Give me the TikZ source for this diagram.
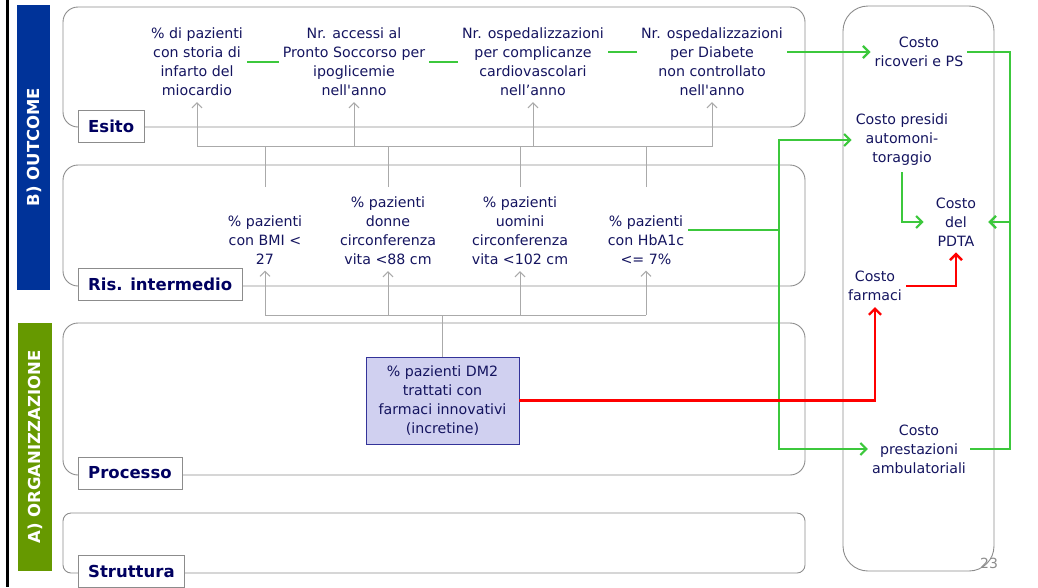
\documentclass[tikz,border=0pt]{standalone}
\usepackage{fontspec}
\setmainfont{DejaVu Sans}
\usetikzlibrary{arrows.meta}
\definecolor{navy}{RGB}{20,20,95}
\definecolor{labelnavy}{RGB}{0,0,96}
\definecolor{boxgray}{RGB}{140,140,140}
\definecolor{linegray}{RGB}{170,170,170}
\definecolor{barblue}{RGB}{0,51,153}
\definecolor{bargreen}{RGB}{102,153,0}
\definecolor{linkgreen}{RGB}{60,200,60}
\definecolor{incrfill}{RGB}{208,208,240}
\definecolor{incrdraw}{RGB}{51,51,153}
\begin{document}
\begin{tikzpicture}[x=1pt,y=-1pt,
    txt/.style={align=center, text=navy, font=\fontsize{14.2}{19}\selectfont, inner xsep=4pt, inner ysep=6pt},
    sectionlabel/.style={draw=boxgray, fill=white, text=labelnavy, anchor=west, font=\fontsize{16.5}{18}\selectfont\bfseries, minimum height=32pt, inner xsep=10pt},
    sidebar/.style={rotate=90, text=white, font=\fontsize{16.5}{18}\selectfont\bfseries},
    area/.style={draw=boxgray, line width=0.9pt, rounded corners=15pt},
    grayline/.style={draw=linegray, line width=1pt},
    grayarrow/.style={grayline, -{Straight Barb[length=5pt,width=10pt]}},
    greenline/.style={draw=linkgreen, line width=2.2pt},
    greenarrow/.style={greenline, -{Straight Barb[length=6pt,width=12pt]}},
    redarrow/.style={draw=red, line width=2.4pt, -{Straight Barb[length=6pt,width=12pt]}}]
    \useasboundingbox (0,0) rectangle (1038,587);
    % side bars
    \draw[line width=3pt] (7,0) -- (7,587);
    \fill[barblue] (17,5) rectangle (50,290);
    \node[sidebar] (outcome) at (34,147) {B) OUTCOME};
    \fill[bargreen] (18,323) rectangle (52,571);
    \node[sidebar] (organizz) at (35,447) {A) ORGANIZZAZIONE};
    % areas
    \draw[area] (63,7) rectangle (805,127);
    \draw[area] (63,165) rectangle (805,286);
    \draw[area] (63,323) rectangle (805,475);
    \draw[area, rounded corners=8pt] (63,513) rectangle (805,573);
    \draw[area, rounded corners=25pt] (843,6) rectangle (994,571);
    \node[sectionlabel] (esito) at (78,126) {Esito};
    \node[sectionlabel] (ris) at (78,284.5) {Ris. intermedio};
    \node[sectionlabel] (proc) at (78,473) {Processo};
    \node[sectionlabel] (strutt) at (78,571) {Struttura};
    % esito
    \node[txt] (inf) at (197,62) {\% di pazienti\\con storia di\\infarto del\\miocardio};
    \node[txt] (ps) at (354,62) {Nr. accessi al\\Pronto Soccorso per\\ipoglicemie\\nell\textquotesingle anno};
    \node[txt] (cardio) at (533,62) {Nr. ospedalizzazioni\\per complicanze\\cardiovascolari\\nell’anno};
    \node[txt] (diab) at (712,62) {Nr. ospedalizzazioni\\per Diabete\\non controllato\\nell\textquotesingle anno};
    % risultati intermedi
    \node[txt] (bmi) at (265,240) {\% pazienti\\con BMI <\\27};
    \node[txt] (donne) at (388,231) {\% pazienti\\donne\\circonferenza\\vita <88 cm};
    \node[txt] (uomini) at (520,231) {\% pazienti\\uomini\\circonferenza\\vita <102 cm};
    \node[txt] (hba) at (646,240) {\% pazienti\\con HbA1c\\<= 7\%};
    % processo
    \node[txt, draw=incrdraw, fill=incrfill, minimum width=153pt, minimum height=87pt, inner sep=0pt] (incr) at (442.5,400.5) {\% pazienti DM2\\trattati con\\farmaci innovativi\\(incretine)};
    % costi
    \node[txt] (ric) at (919,52) {Costo\\ricoveri e PS};
    \node[txt] (pres) at (902,140) {Costo presidi\\automoni-\\toraggio};
    \node[txt, inner xsep=12pt] (pdta) at (956,222) {Costo\\del\\PDTA};
    \node[txt] (farm) at (875,286) {Costo\\farmaci};
    \node[txt] (prest) at (919,449) {Costo\\prestazioni\\ambulatoriali};
    \node[text=boxgray, font=\fontsize{14}{16}\selectfont] (pagenr) at (989,563) {23};
    % gray connectors
    \coordinate (rtop) at (0,187);
    \coordinate (busup) at (0,146);
    \coordinate (busdown) at (0,315);
    \draw[grayline] (inf.south |- busup) -- (diab.south |- busup);
    \foreach \a/\b in {bmi/inf, donne/ps, uomini/cardio, hba/diab}
        \draw[grayarrow] (\a |- rtop) |- (\b |- busup) -- (\b.south);
    \draw[grayline, line width=1.3pt] (incr.north) -- (incr.north |- busdown);
    \draw[grayline] (bmi |- busdown) -- (hba |- busdown);
    \foreach \n in {bmi, donne, uomini, hba}
        \draw[grayarrow] (\n |- busdown) -- (\n.south);
    % green connectors
    \coordinate (gleft) at (779,230);
    \coordinate (gright) at (1010,0);
    \draw[greenline] (inf.east) -- (ps.west);
    \draw[greenline] (ps.east) -- (cardio.west);
    \draw[greenline] (cardio.east |- ric) -- (diab.west |- ric);
    \draw[greenarrow] (diab.east |- ric) -- (ric.west);
    \draw[greenarrow] ([yshift=10pt]hba.east) -- (gleft) |- (pres.west);
    \draw[greenarrow] (gleft) |- (prest.west);
    \draw[greenarrow] (pres.south) |- (pdta.west);
    \draw[greenarrow] (ric.east) -| (gright |- pdta.east) -- (pdta.east);
    \draw[greenarrow] (prest.east) -| (gright |- pdta.east) -- (pdta.east);
    % red connectors
    \draw[redarrow] (incr.east) -| (farm.south);
    \draw[redarrow] (farm.east) -| (pdta.south);
\end{tikzpicture}
\end{document}
